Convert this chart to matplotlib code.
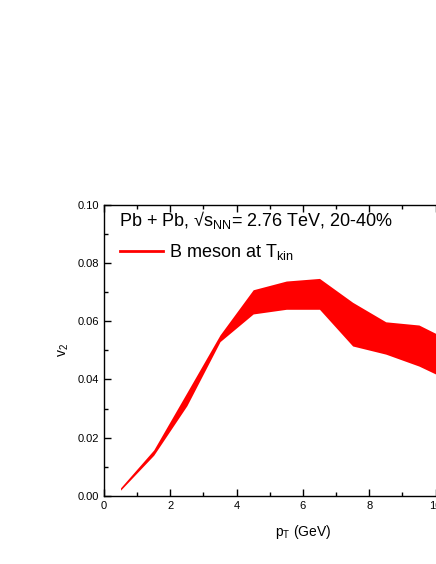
import matplotlib
matplotlib.use('Agg')
import matplotlib.pyplot as plt
from matplotlib.ticker import MultipleLocator, FormatStrFormatter

plt.rcParams['font.family'] = ['Liberation Sans', 'DejaVu Sans']
plt.rcParams['mathtext.fontset'] = 'custom'
plt.rcParams['mathtext.rm'] = 'Liberation Sans'
plt.rcParams['mathtext.it'] = 'Liberation Sans'

# B meson v2 band (upper / lower edges)
pt = [0.5, 1.5, 2.5, 3.5, 4.5, 5.5, 6.5, 7.5, 8.5, 9.5, 10.5]
v2_upper = [0.0028, 0.0158, 0.0355, 0.0553, 0.0708, 0.0738, 0.0747, 0.0665, 0.0598, 0.0587, 0.0530]
v2_lower = [0.0020, 0.0140, 0.0310, 0.0530, 0.0625, 0.0641, 0.0641, 0.0515, 0.0487, 0.0446, 0.0392]

fig = plt.figure(figsize=(4.36, 5.64), dpi=100)
# the frame runs past the right edge of the picture (x axis up to 12)
ax = fig.add_axes([0.2385, 0.1206, 0.9125, 0.5164])

ax.fill_between(pt, v2_lower, v2_upper, color='#ff0000', lw=0)
ax.plot([], [], color='#ff0000', lw=2, label=r'B meson at T$_{\rm kin}$')

ax.set_xlim(0, 12)
ax.set_ylim(0, 0.10)
ax.xaxis.set_major_locator(MultipleLocator(2))
ax.xaxis.set_minor_locator(MultipleLocator(1))
ax.yaxis.set_major_locator(MultipleLocator(0.02))
ax.yaxis.set_minor_locator(MultipleLocator(0.01))
ax.yaxis.set_major_formatter(FormatStrFormatter('%.2f'))
ax.tick_params(which='both', direction='in', top=True, right=True, labelsize=8)
ax.tick_params(which='major', length=5, width=1)
ax.tick_params(which='minor', length=3, width=1)
for s in ax.spines.values():
    s.set_linewidth(1)

ax.set_xlabel(r'p$_{\rm T}$ (GeV)', fontsize=10, labelpad=9)
ax.set_ylabel(r'v$_{\rm 2}$', fontsize=10, labelpad=5)

ax.text(0.037, 0.947, r'Pb + Pb, √s$_{\rm NN}$= 2.76 TeV, 20-40%', transform=ax.transAxes,
        fontsize=13, va='center', ha='left')
ax.legend(loc='center left', bbox_to_anchor=(0.040, 0.836), frameon=False, fontsize=13,
          handlelength=2.4, handletextpad=0.3, borderpad=0, borderaxespad=0)

fig.savefig('out.png', dpi=100)
